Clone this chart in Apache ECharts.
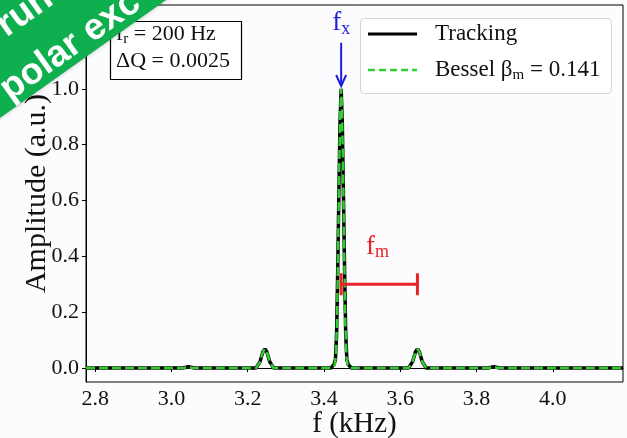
<!DOCTYPE html>
<html><head><meta charset="utf-8">
<script src="https://cdn.jsdelivr.net/npm/echarts@6/dist/echarts.min.js"></script>
<style>html,body{margin:0;padding:0;background:#fcfcff}#c{width:627px;height:438px}</style>
</head><body><div id="c"></div>
<script>
// ---- data ----
const xTicks = [2.8, 3.0, 3.2, 3.4, 3.6, 3.8, 4.0];
const yTicks = [0.0, 0.2, 0.4, 0.6, 0.8, 1.0];
const trackX = [2.776, 3.030, 3.045, 3.060, 3.222, 3.232, 3.240, 3.245, 3.250, 3.258, 3.268,
  3.418, 3.426, 3.430, 3.433, 3.436, 3.439, 3.442, 3.445, 3.448, 3.451, 3.454, 3.457, 3.460, 3.464, 3.472,
  3.622, 3.632, 3.640, 3.645, 3.650, 3.658, 3.668, 3.830, 3.845, 3.860, 4.184];
const trackY = [0, 0, 0.005, 0, 0, 0.022, 0.058, 0.068, 0.058, 0.022, 0,
  0, 0.012, 0.03, 0.12, 0.35, 0.62, 0.88, 1.0, 0.88, 0.62, 0.35, 0.12, 0.03, 0.012, 0,
  0, 0.022, 0.058, 0.068, 0.058, 0.022, 0, 0, 0.005, 0, 0];
const besselX = [2.776, 3.030, 3.045, 3.060, 3.222, 3.232, 3.240, 3.245, 3.250, 3.258, 3.268,
  3.420, 3.428, 3.431, 3.434, 3.437, 3.440, 3.443, 3.445, 3.447, 3.450, 3.453, 3.456, 3.459, 3.462, 3.470,
  3.622, 3.632, 3.640, 3.645, 3.650, 3.658, 3.668, 3.830, 3.845, 3.860, 4.184];
const besselY = [0, 0, 0.003, 0, 0, 0.022, 0.058, 0.068, 0.058, 0.022, 0,
  0, 0.01, 0.04, 0.16, 0.42, 0.72, 0.93, 1.0, 0.93, 0.72, 0.42, 0.16, 0.04, 0.01, 0,
  0, 0.022, 0.058, 0.068, 0.058, 0.022, 0, 0, 0.003, 0, 0];
const seriesNames = ['Tracking', 'Bessel'];
const fx = 3.445;            // carrier frequency (kHz)
const fxArrow = [1.165, 1.01];
const fmRange = [3.445, 3.645];
const fmLevel = 0.3;
const boxLines = ['f_r = 200 Hz', 'ΔQ = 0.0025'];

const SERIF = '"Liberation Serif","Times New Roman",serif';
const SANS = '"Liberation Sans",Arial,sans-serif';
const GREEN = '#32cd32', BLUE = '#1c1cdc', RED = '#ea2228';
const chart = echarts.init(document.getElementById('c'));
const zip = (a, b) => a.map((v, i) => [v, b[i]]);

chart.setOption({
  backgroundColor: '#fcfcff',
  animation: false,
  grid: { left: 86, right: 4, top: 5, bottom: 56, show: true, borderColor: '#000', borderWidth: 1,
          containLabel: false, outerBoundsMode: 'none' },
  xAxis: {
    type: 'value', min: 2.776, max: 4.184,
    name: 'f (kHz)', nameLocation: 'middle', nameGap: 28, nameMoveOverlap: false,
    nameTextStyle: { fontFamily: SERIF, fontSize: 29, color: '#111' },
    axisLine: { lineStyle: { color: '#000', width: 1 } },
    axisTick: { show: true, length: 4, customValues: xTicks, lineStyle: { color: '#000' } },
    axisLabel: { customValues: xTicks, formatter: v => v.toFixed(1), fontFamily: SERIF, fontSize: 22, color: '#111', margin: 6 },
    splitLine: { show: false }
  },
  yAxis: {
    type: 'value', min: -0.05, max: 1.3,
    name: 'Amplitude (a.u.)', nameLocation: 'middle', nameGap: 34, nameMoveOverlap: false,
    nameTextStyle: { fontFamily: SERIF, fontSize: 30, color: '#111' },
    axisLine: { show: true, lineStyle: { color: '#000', width: 1 } },
    axisTick: { show: true, length: 4, customValues: yTicks, lineStyle: { color: '#000' } },
    axisLabel: { customValues: yTicks, formatter: v => v.toFixed(1), fontFamily: SERIF, fontSize: 22, color: '#111', margin: 7 },
    splitLine: { show: false }
  },
  series: [
    { name: seriesNames[0], type: 'line', data: zip(trackX, trackY), showSymbol: false, symbol: 'none',
      lineStyle: { color: '#000', width: 3.5 }, itemStyle: { color: '#000' }, z: 2 },
    { name: seriesNames[1], type: 'line', data: zip(besselX, besselY), showSymbol: false, symbol: 'none',
      lineStyle: { color: GREEN, width: 2.5, type: [9, 4] }, itemStyle: { color: GREEN }, z: 3 }
  ]
});

const P = (x, y) => chart.convertToPixel({ gridIndex: 0 }, [x, y]);
const a0 = P(fx, fxArrow[0]), a1 = P(fx, fxArrow[1]);
const fxLab = P(fx, 1.235);
const m0 = P(fmRange[0], fmLevel), m1 = P(fmRange[1], fmLevel);
const fmLab = P((fmRange[0] + fmRange[1]) / 2 - 0.005, 0.435);
const subRich = (c, big, small) => ({
  a: { fontFamily: SERIF, fontSize: big, fill: c, lineHeight: big + 3 },
  b: { fontFamily: SERIF, fontSize: small, fill: c, lineHeight: small - 3, verticalAlign: 'bottom' }
});

chart.setOption({
  graphic: [
    // f_x arrow
    { type: 'line', shape: { x1: a0[0], y1: a0[1], x2: a1[0], y2: a1[1] }, style: { stroke: BLUE, lineWidth: 2 }, z: 50 },
    { type: 'polyline', shape: { points: [[a1[0] - 5, a1[1] - 11], [a1[0], a1[1]], [a1[0] + 5, a1[1] - 11]] }, style: { stroke: BLUE, lineWidth: 2, fill: null }, z: 50 },
    { type: 'text', x: fxLab[0], y: fxLab[1], z: 50, style: {
        text: '{a|f}{b|x}', align: 'center', verticalAlign: 'middle', rich: subRich(BLUE, 27, 18) } },
    // f_m bar
    { type: 'line', shape: { x1: m0[0], y1: m0[1], x2: m1[0], y2: m1[1] }, style: { stroke: RED, lineWidth: 3 }, z: 50 },
    { type: 'line', shape: { x1: m0[0], y1: m0[1] - 11, x2: m0[0], y2: m0[1] + 11 }, style: { stroke: RED, lineWidth: 3 }, z: 50 },
    { type: 'line', shape: { x1: m1[0], y1: m1[1] - 11, x2: m1[0], y2: m1[1] + 11 }, style: { stroke: RED, lineWidth: 3 }, z: 50 },
    { type: 'text', x: fmLab[0], y: fmLab[1], z: 50, style: {
        text: '{a|f}{b|m}', align: 'center', verticalAlign: 'middle', rich: subRich(RED, 27, 18) } },
    // legend
    { type: 'rect', shape: { x: 360.5, y: 18.5, width: 251, height: 75, r: 4 }, style: { fill: '#fff', stroke: '#d4d4d4', lineWidth: 1 }, z: 60 },
    { type: 'line', shape: { x1: 368, y1: 34, x2: 417, y2: 34 }, style: { stroke: '#000', lineWidth: 3 }, z: 61 },
    { type: 'line', shape: { x1: 368, y1: 70, x2: 417, y2: 70 }, style: { stroke: GREEN, lineWidth: 2.5, lineDash: [7, 4] }, z: 61 },
    { type: 'text', x: 435, y: 34, z: 61, style: { text: seriesNames[0], align: 'left', verticalAlign: 'middle', fontFamily: SERIF, fontSize: 23, fill: '#111' } },
    { type: 'text', x: 435, y: 70, z: 61, style: {
        text: '{a|' + seriesNames[1] + ' β}{b|m}{a| = 0.141}', align: 'left', verticalAlign: 'middle', rich: subRich('#111', 23, 15) } },
    // parameter box
    { type: 'rect', shape: { x: 110.5, y: 21.5, width: 131, height: 58 }, style: { fill: '#fff', stroke: '#000', lineWidth: 1.2 }, z: 60 },
    { type: 'text', x: 116, y: 34, z: 61, style: {
        text: '{a|f}{b|r}{a| = 200 Hz}', align: 'left', verticalAlign: 'middle', rich: subRich('#111', 22, 15) } },
    { type: 'text', x: 116, y: 61, z: 61, style: {
        text: boxLines[1], align: 'left', verticalAlign: 'middle', fontFamily: SERIF, fontSize: 22, fill: '#111' } },
    // corner ribbon
    { type: 'group', x: 83, y: 59, rotation: 35.4 * Math.PI / 180, z: 100, children: [
        { type: 'rect', shape: { x: -320, y: -180, width: 640, height: 180 }, style: { fill: '#0fae4f', shadowBlur: 4, shadowColor: 'rgba(0,0,0,0.25)' }, z: 100 },
        { type: 'text', x: -84, y: -18, z: 101, style: { text: 'polar exc', fill: '#fff', fontFamily: SANS, fontWeight: 'bold', fontSize: 37, align: 'left', verticalAlign: 'middle' } },
        { type: 'text', x: -50, y: -72, z: 101, style: { text: 'run', fill: '#fff', fontFamily: SANS, fontWeight: 'bold', fontSize: 37, align: 'left', verticalAlign: 'middle' } }
    ] }
  ]
});
</script></body></html>
